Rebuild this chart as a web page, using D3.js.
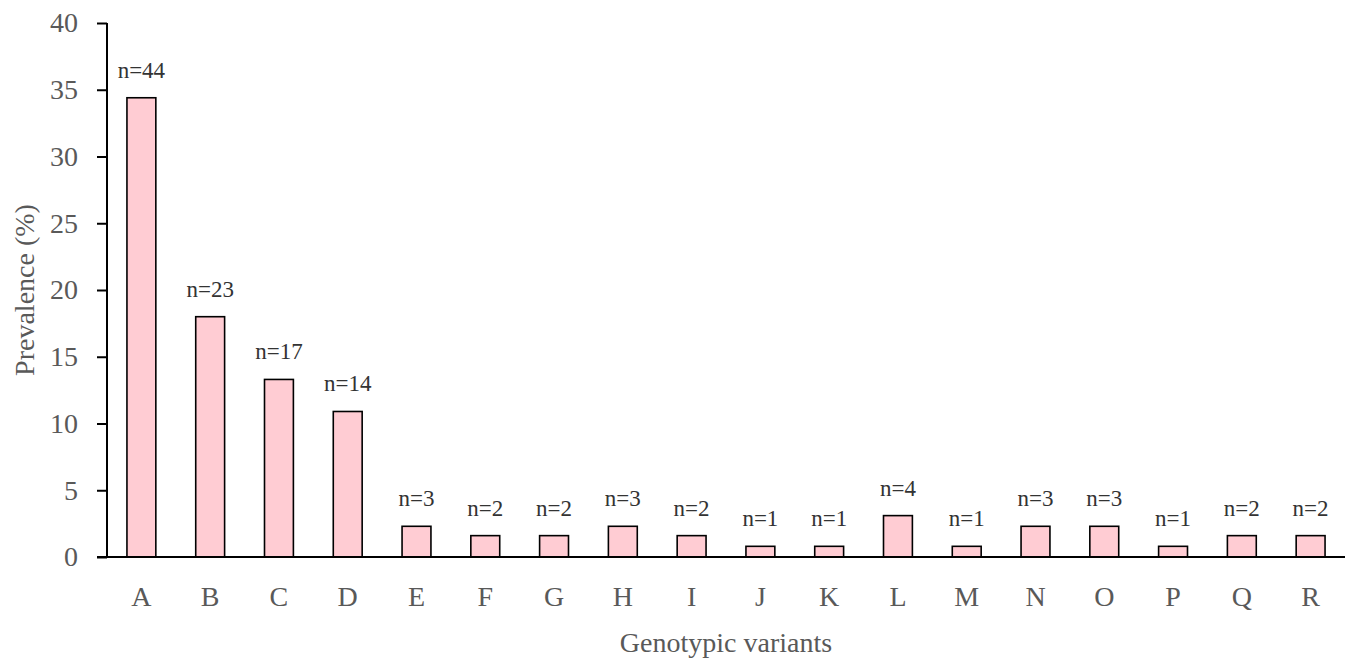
<!DOCTYPE html>
<html>
<head>
<meta charset="utf-8">
<script src="https://cdn.jsdelivr.net/npm/d3@7"></script>
<style>
  html, body { margin: 0; padding: 0; background: #fff; }
  svg { display: block; }
  text { font-family: "Liberation Serif", "DejaVu Serif", serif; }
</style>
</head>
<body>
<svg id="chart" width="1349" height="659"></svg>
<script>
const categories = ["A","B","C","D","E","F","G","H","I","J","K","L","M","N","O","P","Q","R"];
const prevalence = [34.4, 18.0, 13.3, 10.9, 2.3, 1.6, 1.6, 2.3, 1.6, 0.8, 0.8, 3.1, 0.8, 2.3, 2.3, 0.8, 1.6, 1.6];
const counts = [44, 23, 17, 14, 3, 2, 2, 3, 2, 1, 1, 4, 1, 3, 3, 1, 2, 2];
const yTicks = [0, 5, 10, 15, 20, 25, 30, 35, 40];
const xTitle = "Genotypic variants";
const yTitle = "Prevalence (%)";

const svg = d3.select("#chart");
const mLeft = 107, mRight = 1345, mTop = 23, mBottom = 557;
const fontMain = 28;

const x = d3.scaleBand().domain(categories).range([mLeft, mRight])
  .paddingInner(0.58).paddingOuter(0.29);
const y = d3.scaleLinear().domain([0, 40]).range([mBottom, mTop]);

// bars
svg.append("g").selectAll("rect").data(categories).join("rect")
  .attr("x", d => x(d))
  .attr("y", (d, i) => y(prevalence[i]))
  .attr("width", x.bandwidth())
  .attr("height", (d, i) => y(0) - y(prevalence[i]))
  .attr("fill", "#ffccd3")
  .attr("stroke", "#000")
  .attr("stroke-width", 1.6);

// n labels
svg.append("g").selectAll("text").data(categories).join("text")
  .attr("x", d => x(d) + x.bandwidth() / 2)
  .attr("y", (d, i) => y(prevalence[i]) - 20)
  .attr("text-anchor", "middle")
  .attr("font-size", 23)
  .attr("fill", "#333")
  .text((d, i) => "n=" + counts[i]);

// y axis
const yAxis = svg.append("g").attr("transform", `translate(${mLeft},0)`)
  .call(d3.axisLeft(y).tickValues(yTicks).tickSize(10).tickPadding(19));
yAxis.select(".domain").attr("stroke", "#000").attr("stroke-width", 2).attr("d", `M0,${mTop}V${mBottom}`);
yAxis.selectAll(".tick line").attr("stroke", "#000").attr("stroke-width", 2);
yAxis.selectAll(".tick text").attr("font-size", fontMain).attr("fill", "#595959")
  .attr("font-family", "Liberation Serif, serif");

// x axis
const xAxis = svg.append("g").attr("transform", `translate(0,${mBottom})`)
  .call(d3.axisBottom(x).tickSize(0).tickPadding(29));
xAxis.select(".domain").attr("stroke", "#000").attr("stroke-width", 2).attr("d", `M${mLeft - 10},0H${mRight}`);
xAxis.selectAll(".tick text").attr("font-size", fontMain).attr("fill", "#595959")
  .attr("font-family", "Liberation Serif, serif");

// titles
svg.append("text")
  .attr("x", (mLeft + mRight) / 2).attr("y", 652)
  .attr("text-anchor", "middle").attr("font-size", fontMain).attr("fill", "#595959")
  .text(xTitle);

svg.append("text")
  .attr("transform", `translate(34,${(mTop + mBottom) / 2}) rotate(-90)`)
  .attr("text-anchor", "middle").attr("font-size", fontMain).attr("fill", "#595959")
  .text(yTitle);
</script>
</body>
</html>
